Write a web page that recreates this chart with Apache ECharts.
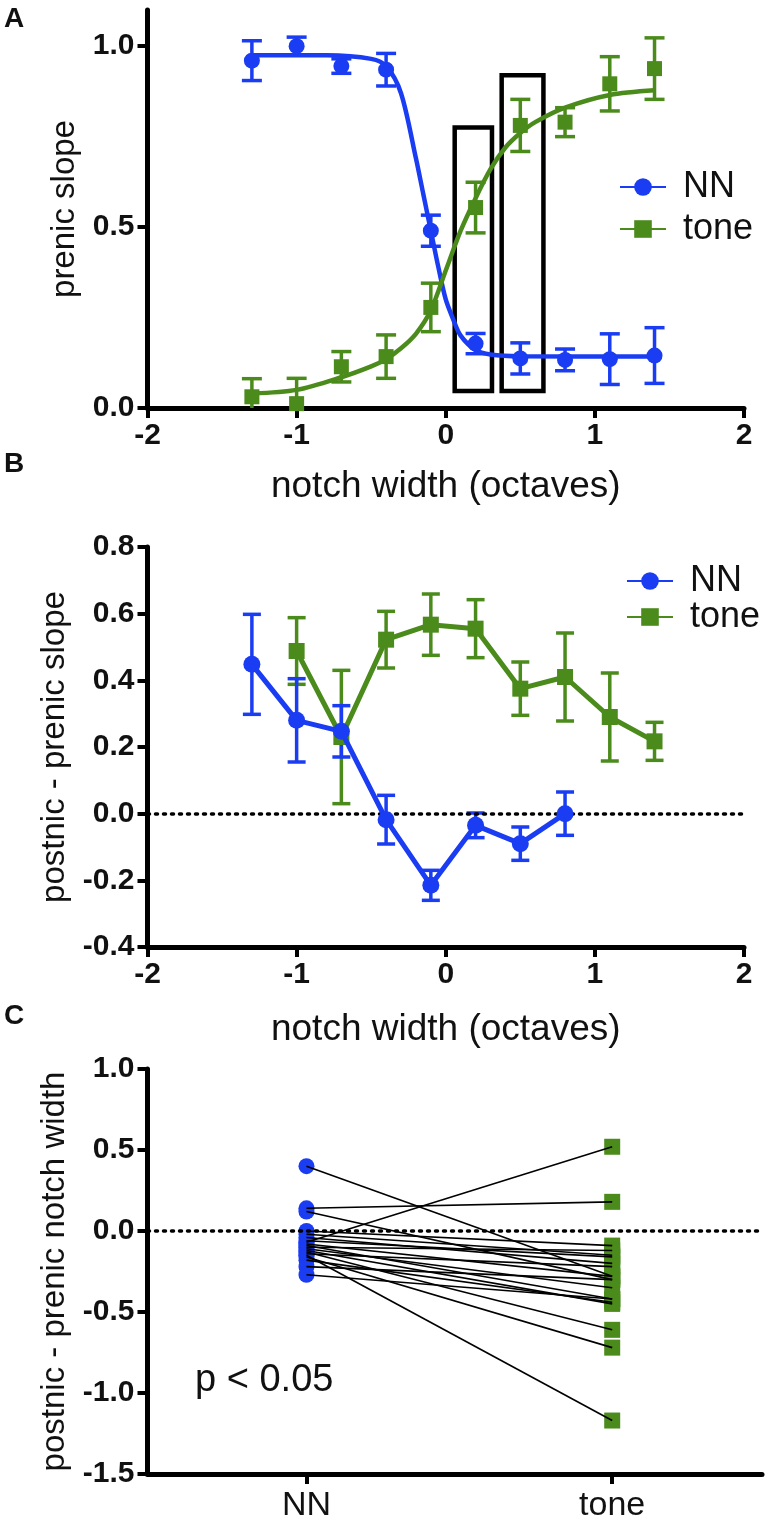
<!DOCTYPE html>
<html>
<head>
<meta charset="utf-8">
<script src="https://cdn.jsdelivr.net/npm/echarts@6/dist/echarts.min.js"></script>
<style>
  html, body { margin: 0; padding: 0; background: #fff; }
  #main { width: 766px; height: 1532px; }
</style>
</head>
<body>
<div id="main"></div>
<script>
// panel A: prenic slope vs notch width
const xA = [-1.3, -1.0, -0.7, -0.4, -0.1, 0.2, 0.5, 0.8, 1.1, 1.4];
const nnA = [0.96, 1.0, 0.945, 0.935, 0.49, 0.178, 0.137, 0.133, 0.135, 0.145];
const nnAErr = [0.055, 0.025, 0.02, 0.045, 0.043, 0.028, 0.043, 0.03, 0.07, 0.077];
const toneA = [0.031, 0.012, 0.114, 0.142, 0.278, 0.554, 0.781, 0.79, 0.896, 0.938];
const toneAErr = [0.05, 0.07, 0.042, 0.06, 0.067, 0.07, 0.072, 0.04, 0.075, 0.085];
// fitted curves
const nnFitX = [-1.3, -0.8, -0.5, -0.4, -0.3, -0.2, -0.15, -0.1, -0.05, 0, 0.05, 0.1, 0.2, 0.3, 0.5, 1.4];
const nnFitY = [0.975, 0.975, 0.965, 0.945, 0.87, 0.69, 0.59, 0.49, 0.39, 0.30, 0.245, 0.2, 0.16, 0.148, 0.143, 0.142];
const toneFitX = [-1.3, -1.0, -0.7, -0.5, -0.4, -0.3, -0.2, -0.1, 0, 0.1, 0.2, 0.3, 0.4, 0.5, 0.6, 0.8, 1.1, 1.4];
const toneFitY = [0.04, 0.05, 0.085, 0.115, 0.135, 0.165, 0.205, 0.27, 0.38, 0.49, 0.58, 0.66, 0.72, 0.76, 0.79, 0.83, 0.865, 0.878];
// highlight boxes [x0, y0, x1, y1]
const boxes = [[0.06, 0.775, 0.31, 0.047], [0.375, 0.92, 0.655, 0.047]];

// panel B: postnic - prenic slope
const xBnn = [-1.3, -1.0, -0.7, -0.4, -0.1, 0.2, 0.5, 0.8];
const nnB = [0.448, 0.28, 0.247, -0.018, -0.215, -0.035, -0.09, 0.0];
const nnBErr = [0.15, 0.125, 0.077, 0.073, 0.045, 0.037, 0.05, 0.065];
const xBtone = [-1.0, -0.7, -0.4, -0.1, 0.2, 0.5, 0.8, 1.1, 1.4];
const toneB = [0.488, 0.23, 0.522, 0.567, 0.555, 0.375, 0.41, 0.29, 0.217];
const toneBErr = [0.1, 0.2, 0.085, 0.092, 0.087, 0.08, 0.132, 0.132, 0.057];

// panel C: paired notch width change, [NN, tone]
const groupsC = ['NN', 'tone'];
const pairsC = [
  [0.40, -0.28], [0.14, 0.18], [0.12, -0.30], [-0.07, 0.52], [0.00, -0.09],
  [-0.02, -0.15], [-0.04, -0.20], [-0.06, -0.16], [-0.08, -0.28], [-0.09, -0.42],
  [-0.10, -0.12], [-0.11, -0.35], [-0.12, -0.45], [-0.13, -0.61], [-0.14, -0.22],
  [-0.15, -1.17], [-0.16, -0.72], [-0.18, -0.44], [-0.22, -0.30], [-0.27, -0.42]
];

const BLUE = '#1a3cf2';
const GREEN = '#4b8b1c';
const FONT = 'Liberation Sans, Arial, sans-serif';

const zip = (xs, ys) => xs.map((x, i) => [x, ys[i]]);
const fmt = v => (Math.abs(v) < 1e-9 ? '0.0' : v.toFixed(1));

function errBars(name, xs, ys, errs, color, idx, cap) {
  return {
    type: 'custom', name: name, xAxisIndex: idx, yAxisIndex: idx, clip: true, z: 3,
    data: xs.map((x, i) => [x, ys[i] - errs[i], ys[i] + errs[i]]),
    renderItem: function (params, api) {
      const lo = api.coord([api.value(0), api.value(1)]);
      const hi = api.coord([api.value(0), api.value(2)]);
      const st = { stroke: color, lineWidth: 3.5 };
      return {
        type: 'group', children: [
          { type: 'line', shape: { x1: lo[0], y1: lo[1], x2: hi[0], y2: hi[1] }, style: st },
          { type: 'line', shape: { x1: hi[0] - cap, y1: hi[1], x2: hi[0] + cap, y2: hi[1] }, style: st },
          { type: 'line', shape: { x1: lo[0] - cap, y1: lo[1], x2: lo[0] + cap, y2: lo[1] }, style: st }
        ]
      };
    }
  };
}

const tickLabel = { fontSize: 30, fontWeight: 'bold', color: '#111', fontFamily: FONT, margin: 13 };

function xAxisNum(idx, title, gap) {
  return {
    type: 'value', gridIndex: idx, min: -2, max: 2, interval: 1,
    name: title, nameLocation: 'middle', nameGap: gap,
    nameTextStyle: { fontSize: 37, color: '#111', fontFamily: FONT },
    axisLine: { onZero: false, lineStyle: { color: '#000', width: 5 } },
    axisTick: { length: 10, lineStyle: { width: 4, color: '#000' } },
    axisLabel: tickLabel,
    splitLine: { show: false }
  };
}

function yAxisNum(idx, title, min, max, interval, custom) {
  return {
    type: 'value', gridIndex: idx, min: min, max: max, interval: interval,
    name: title, nameLocation: 'middle', nameGap: 66, nameRotate: 90,
    nameTextStyle: { fontSize: 33, color: '#111', fontFamily: FONT },
    axisLine: { onZero: false, lineStyle: { color: '#000', width: 5 } },
    axisTick: { length: 10, lineStyle: { width: 4, color: '#000' }, customValues: custom },
    axisLabel: Object.assign({ formatter: fmt, customValues: custom }, tickLabel),
    splitLine: { show: false }
  };
}

const dotted = {
  silent: true, symbol: 'none', label: { show: false },
  lineStyle: { color: '#000', type: [2, 6], width: 3.5, cap: 'round' },
  data: [{ yAxis: 0 }]
};

const legendBase = {
  data: ['NN', 'tone'], orient: 'vertical', itemWidth: 46, itemHeight: 22, selectedMode: false,
  textStyle: { fontSize: 36, color: '#111', fontFamily: FONT, padding: [0, 0, 0, 12] }
};

const chart = echarts.init(document.getElementById('main'), null, { renderer: 'canvas' });

chart.setOption({
  animation: false,
  backgroundColor: '#fff',
  grid: [
    { left: 147.5, top: 10, width: 596.5, height: 398, outerBoundsMode: 'none' },
    { left: 147.5, top: 547, width: 596.5, height: 400, outerBoundsMode: 'none' },
    { left: 147.5, top: 1069, width: 614.5, height: 405, outerBoundsMode: 'none' }
  ],
  xAxis: [
    xAxisNum(0, 'notch width (octaves)', 60),
    xAxisNum(1, 'notch width (octaves)', 64),
    {
      type: 'value', gridIndex: 2, min: -0.52, max: 1.49,
      axisLine: { onZero: false, lineStyle: { color: '#000', width: 5 } },
      axisTick: { length: 10, lineStyle: { width: 4, color: '#000' }, customValues: [0, 1] },
      axisLabel: {
        fontSize: 34, color: '#111', fontFamily: FONT, margin: 15, customValues: [0, 1],
        formatter: v => groupsC[Math.round(v)]
      },
      splitLine: { show: false }
    }
  ],
  yAxis: [
    yAxisNum(0, 'prenic slope', 0, 1.1, 0.5, [0, 0.5, 1]),
    yAxisNum(1, 'postnic - prenic slope', -0.4, 0.8, 0.2),
    yAxisNum(2, 'postnic - prenic notch width', -1.5, 1.0, 0.5)
  ],
  legend: [
    Object.assign({ left: 614, top: 164, itemGap: 6 }, legendBase),
    Object.assign({ left: 621, top: 558, itemGap: 0 }, legendBase)
  ],
  graphic: [
    { type: 'text', left: 4, top: 5, style: { text: 'A', font: 'bold 28px ' + FONT, fill: '#111' } },
    { type: 'text', left: 4, top: 450, style: { text: 'B', font: 'bold 28px ' + FONT, fill: '#111' } },
    { type: 'text', left: 4, top: 1002, style: { text: 'C', font: 'bold 28px ' + FONT, fill: '#111' } },
    { type: 'text', left: 195, top: 1362, style: { text: 'p < 0.05', font: '38px ' + FONT, fill: '#111' } }
  ],
  series: [
    // A: fitted curves (first, so the legend takes their line + symbol)
    {
      name: 'NN', type: 'line', xAxisIndex: 0, yAxisIndex: 0, data: zip(nnFitX, nnFitY),
      smooth: 0.3, showSymbol: false, symbol: 'circle', z: 4,
      lineStyle: { color: BLUE, width: 4.5 }, itemStyle: { color: BLUE },
      markArea: {
        silent: true,
        itemStyle: { color: 'rgba(0,0,0,0)', borderColor: '#000', borderWidth: 4.5 },
        data: boxes.map(b => [{ xAxis: b[0], yAxis: b[1] }, { xAxis: b[2], yAxis: b[3] }])
      }
    },
    {
      name: 'tone', type: 'line', xAxisIndex: 0, yAxisIndex: 0, data: zip(toneFitX, toneFitY),
      smooth: 0.3, showSymbol: false, symbol: 'rect', z: 4,
      lineStyle: { color: GREEN, width: 4.5 }, itemStyle: { color: GREEN }
    },
    errBars('NN errA', xA, nnA, nnAErr, BLUE, 0, 10),
    errBars('tone errA', xA, toneA, toneAErr, GREEN, 0, 10),
    {
      name: 'NN', type: 'scatter', xAxisIndex: 0, yAxisIndex: 0, data: zip(xA, nnA),
      symbol: 'circle', symbolSize: 16, itemStyle: { color: BLUE, opacity: 1 }, z: 5
    },
    {
      name: 'tone', type: 'scatter', xAxisIndex: 0, yAxisIndex: 0, data: zip(xA, toneA),
      symbol: 'rect', symbolSize: 15, itemStyle: { color: GREEN, opacity: 1 }, z: 5
    },

    // B
    errBars('tone errB', xBtone, toneB, toneBErr, GREEN, 1, 9),
    errBars('NN errB', xBnn, nnB, nnBErr, BLUE, 1, 9),
    {
      name: 'tone', type: 'line', xAxisIndex: 1, yAxisIndex: 1, data: zip(xBtone, toneB),
      symbol: 'rect', symbolSize: 16, lineStyle: { color: GREEN, width: 5 },
      itemStyle: { color: GREEN, opacity: 1 }, z: 4, markLine: dotted
    },
    {
      name: 'NN', type: 'line', xAxisIndex: 1, yAxisIndex: 1, data: zip(xBnn, nnB),
      symbol: 'circle', symbolSize: 17, lineStyle: { color: BLUE, width: 5 },
      itemStyle: { color: BLUE, opacity: 1 }, z: 5
    },

    // C
    {
      name: 'NN pts', type: 'scatter', xAxisIndex: 2, yAxisIndex: 2,
      data: pairsC.map(p => [0, p[0]]), symbol: 'circle', symbolSize: 16,
      itemStyle: { color: BLUE, opacity: 1 }, z: 3, markLine: dotted
    },
    {
      name: 'tone pts', type: 'scatter', xAxisIndex: 2, yAxisIndex: 2,
      data: pairsC.map(p => [1, p[1]]), symbol: 'rect', symbolSize: 16,
      itemStyle: { color: GREEN, opacity: 1 }, z: 3
    },
    {
      name: 'pairs', type: 'lines', coordinateSystem: 'cartesian2d', xAxisIndex: 2, yAxisIndex: 2,
      data: pairsC.map(p => ({ coords: [[0, p[0]], [1, p[1]]] })),
      lineStyle: { color: '#000', width: 1.6, opacity: 1 }, z: 4
    }
  ]
});
</script>
</body>
</html>
